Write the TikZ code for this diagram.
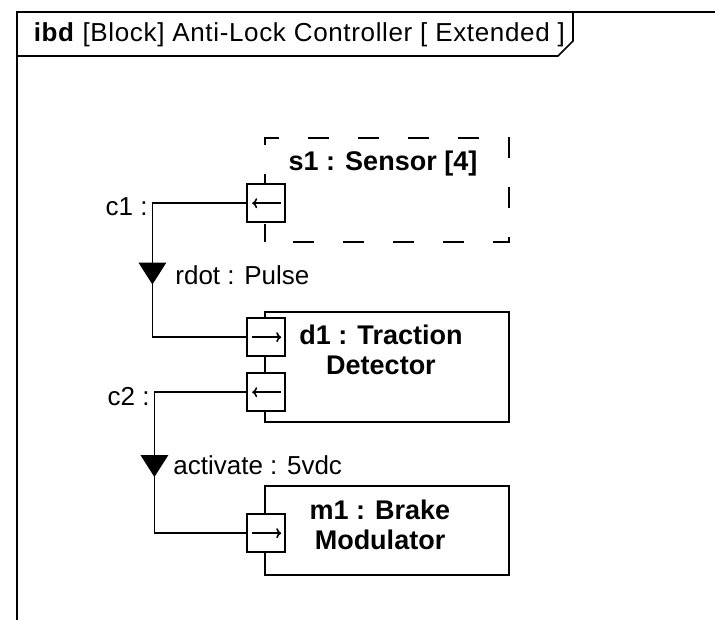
\documentclass[tikz,border=0pt]{standalone}
\usepackage{fontspec}
\setmainfont{Liberation Sans}
\usetikzlibrary{arrows.meta,positioning,shapes.geometric}

\begin{document}
\begin{tikzpicture}[x=1pt, y=-1pt, line width=1.6pt, every node/.style={font=\fontsize{26}{30}\selectfont},
  block/.style={draw, minimum width=244pt, inner sep=0pt},
  blocktitle/.style={align=center, inner sep=0pt, font=\fontsize{27}{30}\selectfont\bfseries},
  port/.style={draw, fill=white, minimum size=38pt, inner sep=0pt},
  portright/.style={port, path picture={\draw[-{To[length=5pt,width=10pt]}] ([xshift=5pt]path picture bounding box.west) -- ([xshift=-4pt]path picture bounding box.east);}},
  portleft/.style={port, path picture={\draw[-{To[length=5pt,width=10pt]}] ([xshift=-4pt]path picture bounding box.east) -- ([xshift=5pt]path picture bounding box.west);}},
  flowmark/.style={isosceles triangle, isosceles triangle stretches, shape border rotate=270, fill, inner sep=0pt, minimum width=28pt, minimum height=22pt},
  conlabel/.style={inner sep=0pt}]
\useasboundingbox (0,0) rectangle (715,620);
\draw (17,620) -- (17,12) -- (715,12);
\draw (17,56) -- (558,56) -- (573,41) -- (573,12);
\node[anchor=west, inner sep=0pt, font=\fontsize{26}{30}\selectfont\addfontfeatures{LetterSpace=2.5}] (hdr) at (33,35) {\textbf{ibd} [Block] Anti-Lock Controller [ Extended ]};

\node[block, dash pattern=on 21pt off 29pt, dash phase=22pt, minimum height=104pt] (s1) at (387,190) {};
\node[blocktitle, below=13pt of s1.north, xshift=-4pt] (s1t) {s1 : Sensor [4]};
\node[block, minimum height=110pt] (d1) at (387,367) {};
\node[blocktitle, below=13pt of d1.north, xshift=-6pt] (d1t) {d1 : Traction\\Detector};
\node[block, minimum height=89pt] (m1) at (387,530.5) {};
\node[blocktitle, below=14pt of m1.north, xshift=-7pt] (m1t) {m1 : Brake\\Modulator};

\node[portleft] (s1p) at ([xshift=2pt,yshift=-66pt]s1.north west) {};
\node[portright] (d1in) at ([xshift=2pt,yshift=-26pt]d1.north west) {};
\node[portleft] (d1out) at ([xshift=2pt,yshift=-81pt]d1.north west) {};
\node[portright] (m1in) at ([xshift=2pt,yshift=-48pt]m1.north west) {};

\draw (s1p.west) -- ++(-94pt,0) node[conlabel, anchor=east, xshift=-4pt, yshift=-3pt] (c1) {c1 :} |- node[flowmark, pos=0.25] (c1f) {} (d1in.west);
\node[conlabel, right=12pt of c1f, yshift=-5pt] (rdot) {rdot : Pulse};
\draw (d1out.west) -- ++(-92pt,0) node[conlabel, anchor=east, xshift=-4pt, yshift=-4pt] (c2) {c2 :} |- node[flowmark, pos=0.25] (c2f) {} (m1in.west);
\node[conlabel, right=8pt of c2f, yshift=-3pt] (act) {activate : 5vdc};
\end{tikzpicture}
\end{document}
